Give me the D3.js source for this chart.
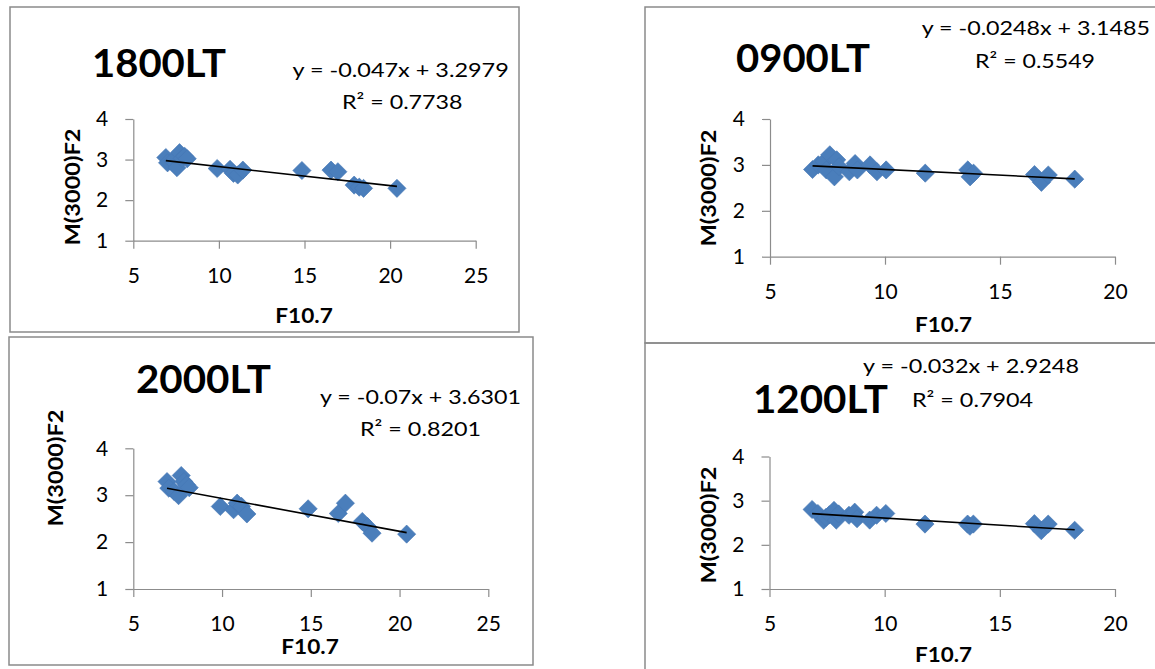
<!DOCTYPE html>
<html>
<head>
<meta charset="utf-8">
<script src="https://cdn.jsdelivr.net/npm/d3@7"></script>
<style>
  body { margin: 0; background: #fff; }
  svg { display: block; font-family: Lato, "Open Sans", sans-serif; }
</style>
</head>
<body>
<div id="chart"></div>
<script>
// Data
// F10.7 values, evening panels (1800LT, 2000LT) and daytime panels (0900LT, 1200LT)
var f107_evening = [6.9, 7.0, 7.3, 7.55, 7.7, 7.85, 8.0, 8.15, 9.9, 10.65, 10.85, 11.1, 11.4,
                    14.85, 16.55, 16.95, 17.9, 18.2, 18.45, 20.4];
var f107_day     = [6.85, 7.1, 7.35, 7.45, 7.6, 7.8, 7.9, 8.0, 8.45, 8.7, 8.8, 9.35, 9.65,
                    10.05, 11.75, 13.6, 13.7, 13.85, 16.5, 16.8, 17.1, 18.25];

// M(3000)F2 values
var m_1800 = [3.05, 2.92, 2.97, 2.80, 3.17, 3.03, 3.08, 3.02, 2.78, 2.76, 2.66, 2.62, 2.74,
              2.73, 2.74, 2.70, 2.37, 2.32, 2.29, 2.29];
var m_2000 = [3.29, 3.15, 3.08, 2.99, 3.42, 3.29, 3.22, 3.16, 2.76, 2.69, 2.83, 2.76, 2.60,
              2.71, 2.61, 2.83, 2.44, 2.33, 2.19, 2.17];
var m_0900 = [2.90, 3.00, 3.07, 2.89, 3.22, 2.74, 3.11, 2.96, 2.85, 3.03, 2.89, 3.00, 2.85,
              2.89, 2.82, 2.89, 2.74, 2.82, 2.79, 2.62, 2.78, 2.69];
var m_1200 = [2.80, 2.71, 2.56, 2.62, 2.68, 2.78, 2.56, 2.70, 2.67, 2.74, 2.59, 2.56, 2.67,
              2.71, 2.47, 2.47, 2.42, 2.47, 2.48, 2.32, 2.47, 2.33];

// Trend lines
var slopes     = [-0.047, -0.0248, -0.07, -0.032];
var intercepts = [3.2979, 3.1485, 3.6301, 2.9248];

// Text
var titles    = ["1800LT", "0900LT", "2000LT", "1200LT"];
var equations = ["y = -0.047x + 3.2979", "y = -0.0248x + 3.1485", "y = -0.07x + 3.6301", "y = -0.032x + 2.9248"];
var r2_labels = ["R\u00b2 = 0.7738", "R\u00b2 = 0.5549", "R\u00b2 = 0.8201", "R\u00b2 = 0.7904"];
var x_label   = "F10.7";
var y_label   = "M(3000)F2";

// Ticks
var y_ticks         = [1, 2, 3, 4];
var x_ticks_evening = [5, 10, 15, 20, 25];
var x_ticks_day     = [5, 10, 15, 20];

// Layout of the four panels (positions only)
var layout = [
  { frame: [10, 7, 519, 332],   plot: [133.3, 475.7, 119, 240.7],
    title: [92, 77.3, 134],  eq: [292.4, 76.7, 216.4], r2: [342, 109.3, 120.5],
    ytitle: [80, 187], xtitle: [304, 323.3, 57.5] },
  { frame: [645, 7, 1170, 343], plot: [770, 1115, 119, 256.7],
    title: [736, 72, 134],   eq: [921.7, 35, 228.3],   r2: [975, 68.3, 120],
    ytitle: [716, 188], xtitle: [943.5, 332, 57] },
  { frame: [9, 337, 533, 665],  plot: [133.3, 488.3, 448.3, 589],
    title: [136, 393, 135],  eq: [320, 404, 201],      r2: [360, 436, 121],
    ytitle: [63, 468], xtitle: [310, 654, 57.5] },
  { frame: [645, 343, 1170, 690], plot: [769.5, 1115, 456.5, 589],
    title: [753, 413, 135],  eq: [863, 373.3, 216],    r2: [912, 406.7, 121],
    ytitle: [716, 525], xtitle: [943.5, 661.7, 57] }
];

var panels = [
  { xs: f107_evening, ys: m_1800, xticks: x_ticks_evening },
  { xs: f107_day,     ys: m_0900, xticks: x_ticks_day },
  { xs: f107_evening, ys: m_2000, xticks: x_ticks_evening },
  { xs: f107_day,     ys: m_1200, xticks: x_ticks_day }
];

var chart_width  = 1155;
var chart_height = 669;
var axis_color   = "#8c8c8c";
var marker_color = "#4a7ebb";

var svg = d3.select('#chart')
            .append('svg')
            .attr('width', chart_width)
            .attr('height', chart_height);

var diamond = d3.symbol().type(d3.symbolSquare).size(165);

panels.forEach(function(p, i) {
  var L = layout[i];
  var g = svg.append('g');

  // frame
  g.append('rect')
   .attr('x', L.frame[0]).attr('y', L.frame[1])
   .attr('width', L.frame[2] - L.frame[0])
   .attr('height', L.frame[3] - L.frame[1])
   .attr('fill', 'none')
   .attr('stroke', '#8a8a8a')
   .attr('stroke-width', 1.5);

  var xd = p.xticks;
  var x = d3.scaleLinear().domain([xd[0], xd[xd.length - 1]]).range([L.plot[0], L.plot[1]]);
  var y = d3.scaleLinear().domain([1, 4]).range([L.plot[3], L.plot[2]]);

  // axes
  var yAxis = g.append('g')
    .attr('transform', 'translate(' + L.plot[0] + ',0)')
    .call(d3.axisLeft(y).tickValues(y_ticks).tickSize(8).tickSizeOuter(0).tickPadding(17)
            .tickFormat(d3.format('d')));
  var xAxis = g.append('g')
    .attr('transform', 'translate(0,' + L.plot[3] + ')')
    .call(d3.axisBottom(x).tickValues(xd).tickSize(8).tickSizeOuter(0).tickPadding(19)
            .tickFormat(d3.format('d')));

  [xAxis, yAxis].forEach(function(a) {
    a.selectAll('path, line').attr('stroke', axis_color).attr('stroke-width', 1.2);
    a.selectAll('text').attr('fill', '#000').style('font-size', '21px')
     .style('font-family', 'Lato, "Open Sans", sans-serif');
  });

  // points
  g.selectAll('path.pt')
   .data(d3.zip(p.xs, p.ys))
   .enter()
   .append('path')
   .classed('pt', true)
   .attr('d', diamond)
   .attr('fill', marker_color)
   .attr('stroke', '#4577b4')
   .attr('stroke-width', 0.6)
   .attr('transform', function(d) {
     return 'translate(' + x(d[0]) + ',' + y(d[1]) + ') rotate(45)';
   });

  // trend line
  var xmin = d3.min(p.xs), xmax = d3.max(p.xs);
  g.append('line')
   .attr('x1', x(xmin)).attr('y1', y(slopes[i] * xmin + intercepts[i]))
   .attr('x2', x(xmax)).attr('y2', y(slopes[i] * xmax + intercepts[i]))
   .attr('stroke', '#000')
   .attr('stroke-width', 1.6);

  // title
  g.append('text')
   .attr('x', L.title[0]).attr('y', L.title[1])
   .attr('textLength', L.title[2]).attr('lengthAdjust', 'spacingAndGlyphs')
   .style('font-size', '38px').style('font-weight', 'bold')
   .text(titles[i]);

  // equation and R squared
  g.append('text')
   .attr('x', L.eq[0]).attr('y', L.eq[1])
   .attr('textLength', L.eq[2]).attr('lengthAdjust', 'spacingAndGlyphs')
   .style('font-size', '20px')
   .text(equations[i]);
  g.append('text')
   .attr('x', L.r2[0]).attr('y', L.r2[1])
   .attr('textLength', L.r2[2]).attr('lengthAdjust', 'spacingAndGlyphs')
   .style('font-size', '20px')
   .text(r2_labels[i]);

  // axis titles
  g.append('text')
   .attr('x', L.xtitle[0]).attr('y', L.xtitle[1])
   .attr('text-anchor', 'middle')
   .attr('textLength', L.xtitle[2]).attr('lengthAdjust', 'spacingAndGlyphs')
   .style('font-size', '21px').style('font-weight', 'bold')
   .text(x_label);
  g.append('text')
   .attr('transform', 'translate(' + L.ytitle[0] + ',' + L.ytitle[1] + ') rotate(-90)')
   .attr('text-anchor', 'middle')
   .attr('textLength', 117).attr('lengthAdjust', 'spacingAndGlyphs')
   .style('font-size', '21px').style('font-weight', 'bold')
   .text(y_label);
});
</script>
</body>
</html>
